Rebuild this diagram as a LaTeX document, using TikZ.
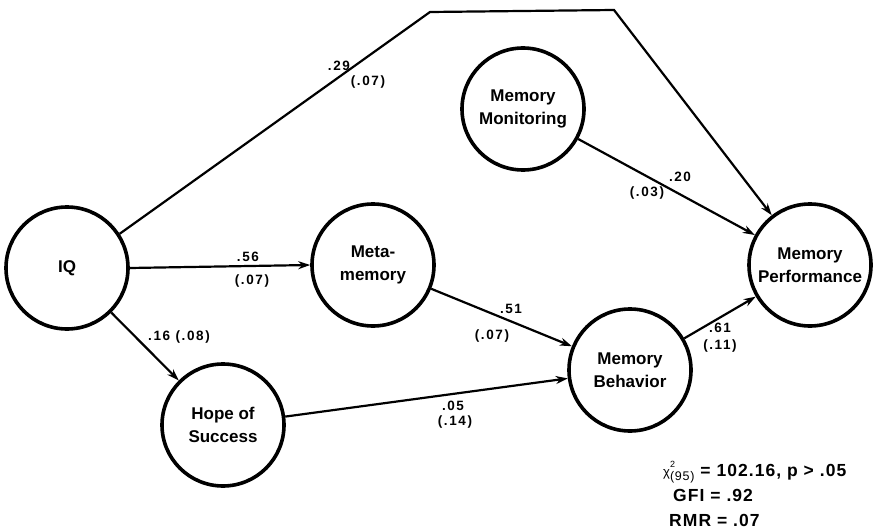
\documentclass[tikz,border=0pt]{standalone}
\usepackage{fontspec}
\setmainfont{Liberation Sans}
\newfontfamily\coeffont[LetterSpace=12]{Liberation Sans}
\newfontfamily\statfont[LetterSpace=6]{Liberation Sans}
\usetikzlibrary{arrows.meta}

\tikzset{
  latent/.style={circle, draw, line width=3.6pt, minimum size=122pt, inner sep=0pt,
    align=center, font=\fontsize{17}{22.5}\selectfont\bfseries},
  path/.style={line width=2.2pt, -{Stealth[length=12pt, width=8pt]}},
  coef/.style={inner sep=0pt, font=\coeffont\bfseries\fontsize{13.5}{15}\selectfont},
  stat/.style={inner sep=0pt, anchor=west, font=\statfont\bfseries\fontsize{17.5}{19}\selectfont},
}

\begin{document}
\begin{tikzpicture}[x=1pt, y=-1pt]
  \useasboundingbox (0,0) rectangle (873,532);

  % latent variables
  \node[latent] (iq)   at (67,268)  {IQ};
  \node[latent] (meta) at (373,265) {Meta-\\memory};
  \node[latent] (hope) at (223,425) {Hope of\\Success};
  \node[latent] (mon)  at (523,109) {Memory\\Monitoring};
  \node[latent] (beh)  at (630,370) {Memory\\Behavior};
  \node[latent] (perf) at (810,265) {Memory\\Performance};

  % bends of the direct IQ path over the top
  \coordinate (bendA) at (430,12);
  \coordinate (bendB) at (614,10);

  % structural paths
  \draw[path] (iq.33) -- (bendA) -- (bendB) -- (perf);
  \draw[path] (iq.east) -- (meta.west);
  \draw[path] (iq) -- (hope);
  \draw[path] (meta) -- (beh);
  \draw[path] (hope) -- (beh);
  \draw[path] (mon) -- (perf);
  \draw[path] (beh) -- (perf);

  % path coefficients and standard errors
  \node[coef] (c29)  at (339,66)  {.29};
  \node[coef] (s29)  at (368,82)  {(.07)};
  \node[coef] (c56)  at (248,257) {.56};
  \node[coef] (s56)  at (252,281) {(.07)};
  \node[coef] (c16)  at (179,337) {.16 (.08)};
  \node[coef] (c51)  at (511,309) {.51};
  \node[coef] (s51)  at (492,336) {(.07)};
  \node[coef] (c05)  at (453,406) {.05};
  \node[coef] (s05)  at (455,422) {(.14)};
  \node[coef] (c20)  at (680,177) {.20};
  \node[coef] (s20)  at (647,193) {(.03)};
  \node[coef] (c61)  at (720,328) {.61};
  \node[coef] (s61)  at (720,346) {(.11)};

  % fit statistics
  \node[stat] (chisq) at (663,472)
    {{\mdseries\fontsize{13}{13}\selectfont χ}\rlap{\raisebox{9pt}{\mdseries\fontsize{9}{9}\selectfont 2}}\raisebox{-4pt}{\mdseries\fontsize{12.5}{13}\selectfont (95)} = 102.16, p > .05};
  \node[stat] (gfi) at (673,495) {GFI = .92};
  \node[stat] (rmr) at (669,520) {RMR = .07};
\end{tikzpicture}
\end{document}
